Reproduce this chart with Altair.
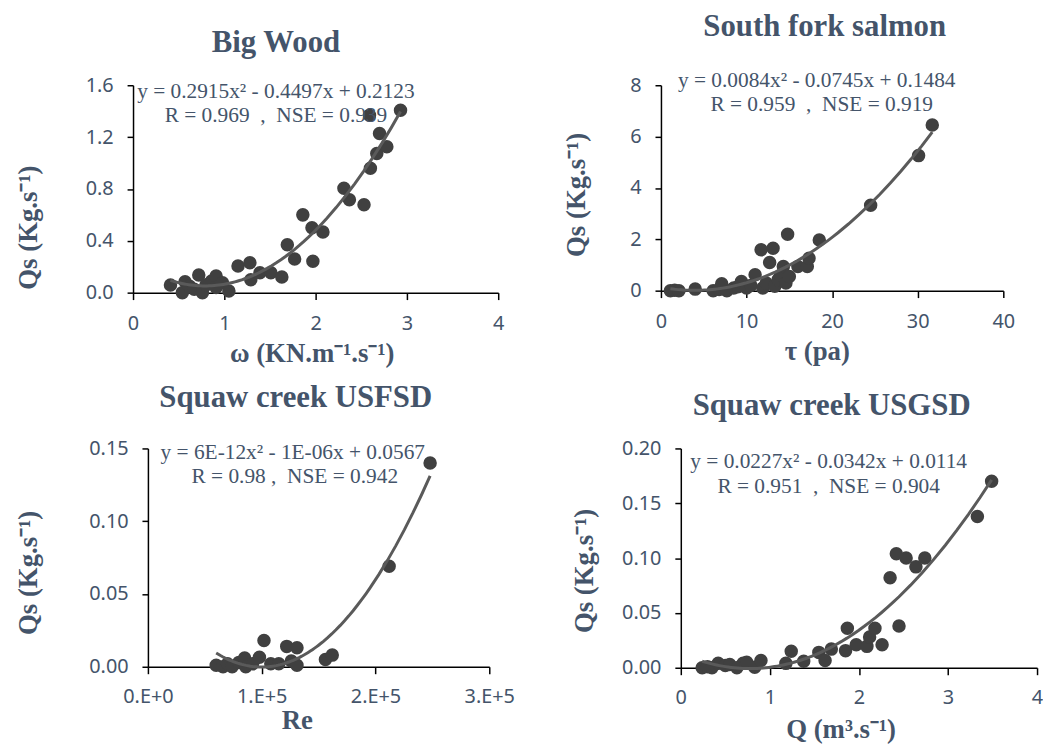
import altair as alt
import pandas as pd

# ---------------- data ----------------
# Big Wood: stream power (KN.m-1.s-1) vs Qs (Kg.s-1)
bw_x = [0.41, 0.54, 0.57, 0.62, 0.67, 0.72, 0.76, 0.80, 0.86, 0.91, 0.91, 0.98, 1.05,
        1.15, 1.28, 1.29, 1.39, 1.51, 1.63, 1.69, 1.77, 1.86, 1.96, 1.97, 2.08, 2.31,
        2.37, 2.53, 2.59, 2.60, 2.67, 2.70, 2.78, 2.93]
bw_y = [0.059, 0.0, 0.084, 0.05, 0.026, 0.136, 0.0, 0.06, 0.09, 0.128, 0.04, 0.077, 0.013,
        0.205, 0.23, 0.10, 0.153, 0.153, 0.12, 0.37, 0.26, 0.60, 0.50, 0.243, 0.468, 0.806,
        0.716, 0.678, 1.368, 0.96, 1.074, 1.228, 1.125, 1.407]

# South fork salmon: shear stress (pa) vs Qs
sf_x = [1.1, 1.6, 2.1, 4.0, 6.1, 6.8, 7.1, 7.7, 8.5, 9.0, 9.4, 10.0, 10.5, 11.0, 11.7, 11.9,
        12.3, 12.7, 13.1, 13.3, 13.7, 14.0, 14.3, 14.6, 14.8, 15.0, 16.0, 17.1, 17.3, 18.5,
        24.5, 30.1, 31.7]
sf_y = [0.0, 0.02, 0.0, 0.06, 0.0, 0.05, 0.27, 0.0, 0.1, 0.15, 0.36, 0.1, 0.2, 0.62, 1.59, 0.1,
        0.3, 1.1, 1.65, 0.17, 0.43, 0.6, 0.94, 0.3, 2.2, 0.55, 0.94, 0.94, 1.26, 1.97,
        3.33, 5.26, 6.45]

# Squaw creek USFSD: Reynolds number vs Qs
uf_x = [60000, 66000, 70000, 74000, 80000, 85000, 86000, 92000, 98000, 102000, 108000,
        115000, 122000, 126000, 131000, 131000, 156000, 162000, 212000, 248000]
uf_y = [0.001, 0.0, 0.002, 0.0, 0.003, 0.006, 0.0, 0.002, 0.0065, 0.018, 0.002,
        0.002, 0.014, 0.004, 0.013, 0.001, 0.005, 0.008, 0.069, 0.140]

# Squaw creek USGSD: discharge (m3.s-1) vs Qs
ug_x = [0.24, 0.30, 0.35, 0.42, 0.50, 0.55, 0.63, 0.70, 0.74, 0.83, 0.90, 1.18, 1.24, 1.38,
        1.55, 1.62, 1.69, 1.85, 1.87, 1.97, 2.09, 2.12, 2.18, 2.26, 2.35, 2.42, 2.45, 2.53,
        2.64, 2.74, 3.33, 3.49]
ug_y = [0.0, 0.001, 0.0, 0.004, 0.002, 0.003, 0.0, 0.004, 0.005, 0.0005, 0.0066, 0.004, 0.015,
        0.006, 0.014, 0.0066, 0.017, 0.0156, 0.036, 0.021, 0.0195, 0.028, 0.036, 0.021, 0.082,
        0.104, 0.038, 0.1, 0.092, 0.1, 0.138, 0.17]

titles = ["Big Wood", "South fork salmon", "Squaw creek USFSD", "Squaw creek USGSD"]
x_titles = ["ω (KN.m⁻¹.s⁻¹)", "τ (pa)", "Re", "Q (m³.s⁻¹)"]
y_title = "Qs (Kg.s⁻¹)"
eq_lines = [
    ("y = 0.2915x² - 0.4497x + 0.2123", "R = 0.969\u00a0\u00a0,\u00a0\u00a0NSE = 0.939"),
    ("y = 0.0084x² - 0.0745x + 0.1484", "R = 0.959\u00a0\u00a0,\u00a0\u00a0NSE = 0.919"),
    ("y = 6E-12x² - 1E-06x + 0.0567", "R = 0.98\u00a0,\u00a0\u00a0NSE = 0.942"),
    ("y = 0.0227x² - 0.0342x + 0.0114", "R = 0.951\u00a0\u00a0,\u00a0\u00a0NSE = 0.904"),
]

TXT = "#44546A"
SERIF = "Liberation Serif"
SANS = "Noto Sans"


def panel(xs, ys, w, h, xdom, xvals, ydom, yvals, yfmt, title, title_pos, xtitle, xt_pos,
          yt_pos, eqs, eq_pos, xlabel_expr=None, xt_base="middle", xlab_pad=14):
    df = pd.DataFrame({"x": xs, "y": ys})
    xaxis_kw = dict(values=xvals, title=xtitle, grid=False, domainColor="black",
                    domainWidth=1.5, tickColor="black", tickWidth=1.5, tickSize=7,
                    labelFont=SANS, labelFontSize=20, labelColor=TXT, labelPadding=xlab_pad,
                    labelFlush=False, labelOverlap=False,
                    titleFont=SERIF, titleFontSize=27, titleFontWeight="bold",
                    titleColor=TXT, titleX=xt_pos[0], titleY=xt_pos[1],
                    titleBaseline=xt_base, titleAlign="center")
    if xlabel_expr:
        xaxis_kw["labelExpr"] = xlabel_expr
    else:
        xaxis_kw["format"] = "d"
    x = alt.X("x:Q", scale=alt.Scale(domain=xdom, nice=False, zero=False),
              axis=alt.Axis(**xaxis_kw))
    y = alt.Y("y:Q", scale=alt.Scale(domain=ydom, nice=False, zero=False),
              axis=alt.Axis(values=yvals, format=yfmt, title=y_title, grid=False,
                            domainColor="black", domainWidth=1.5, tickColor="black",
                            tickWidth=1.5, tickSize=6, labelFont=SANS, labelFontSize=20,
                            labelColor=TXT, labelPadding=14, labelFlush=False,
                            labelOverlap=False, titleFont=SERIF,
                            titleFontSize=27, titleFontWeight="bold", titleColor=TXT,
                            titleX=yt_pos[0], titleY=yt_pos[1], titleAngle=270,
                            titleBaseline="middle", titleAlign="center"))
    base = alt.Chart(df)
    pts = base.mark_circle(size=185, color="#404040", opacity=1).encode(x=x, y=y)
    fit = base.transform_regression("x", "y", method="poly", order=2).mark_line(
        color="#5a5a5a", strokeWidth=3).encode(x=x, y=y)
    layers = [pts, fit]
    for txt, (px, py) in zip(eqs, eq_pos):
        layers.append(alt.Chart(pd.DataFrame({"t": [txt]})).mark_text(
            font=SERIF, fontSize=21.5, color=TXT, align="center", baseline="middle").encode(
            text="t:N", x=alt.value(px), y=alt.value(py)))
    layers.append(alt.Chart(pd.DataFrame({"t": [title]})).mark_text(
        font=SERIF, fontSize=31, fontWeight="bold", color=TXT, align="center",
        baseline="alphabetic").encode(text="t:N", x=alt.value(title_pos[0]),
                                      y=alt.value(title_pos[1])))
    return alt.layer(*layers).properties(width=w, height=h)


p1 = panel(bw_x, bw_y, 368, 209, [0, 4], [0, 1, 2, 3, 4], [0, 1.6], [0, 0.4, 0.8, 1.2, 1.6],
           ".1f", titles[0], (144, -34), x_titles[0], (180, 61), (-105, 143),
           eq_lines[0], [(144, 7), (144, 31)])
p2 = panel(sf_x, sf_y, 345, 207, [0, 40], [0, 10, 20, 30, 40], [0, 8], [0, 2, 4, 6, 8],
           "d", titles[1], (165, -50), x_titles[1], (157, 61), (-85, 110),
           eq_lines[1], [(157, -4), (162, 20)])
p3 = panel(uf_x, uf_y, 344, 220, [0, 300000], [0, 100000, 200000, 300000], [0, 0.15],
           [0, 0.05, 0.10, 0.15], ".2f", titles[2], (149, -42), x_titles[2], (150, 62),
           (-120, 125), eq_lines[2], [(146, 5), (148, 29)],
           xlabel_expr="replace(format(datum.value, '.0e'), 'e', '.E')", xt_base="alphabetic",
           xlab_pad=13)
p4 = panel(ug_x, ug_y, 359, 221, [0, 4], [0, 1, 2, 3, 4], [0, 0.2],
           [0, 0.05, 0.10, 0.15, 0.20], ".2f", titles[3], (152, -34), x_titles[3],
           (161, 70), (-97, 123), eq_lines[3], [(149, 14), (149, 39)],
           xt_base="alphabetic", xlab_pad=13)

spacer = alt.Chart(pd.DataFrame({"a": [0]})).mark_point(opacity=0).encode(
    x=alt.value(0), y=alt.value(0)).properties(width=15, height=10)

row1 = alt.hconcat(p1, p2, spacing=164, bounds="flush")
row2 = alt.hconcat(spacer, alt.hconcat(p3, p4, spacing=193, bounds="flush"),
                   spacing=0, bounds="flush")
chart = alt.vconcat(row1, row2, spacing=366, bounds="flush").configure_view(
    strokeOpacity=0).properties(background="white",
                                padding={"left": 7, "top": 0, "right": 0, "bottom": 0})

chart.save("out.html", embed_options={"renderer": "svg", "actions": False})
